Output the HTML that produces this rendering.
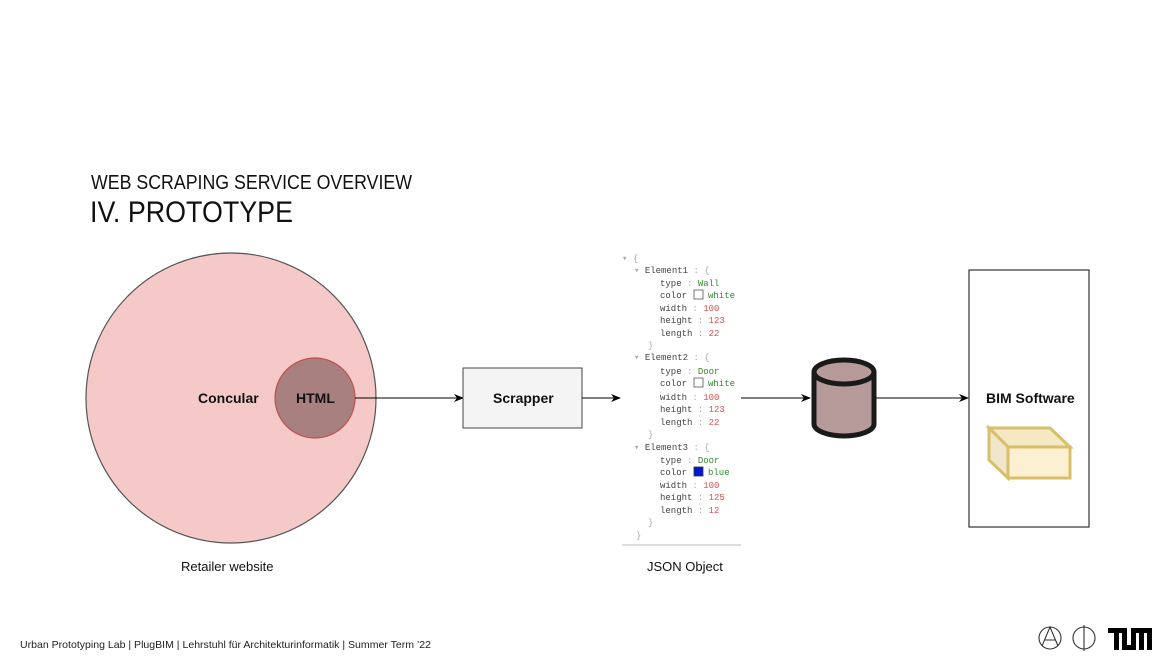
<!DOCTYPE html>
<html><head><meta charset="utf-8"><style>
html,body{margin:0;padding:0;background:#fff;}
svg{display:block}
.m{font-family:"Liberation Mono","DejaVu Sans Mono",monospace;font-size:9px;fill:#444}
.g{fill:#2e8b2e}.r{fill:#d9534f}.p{fill:#aaa}
</style></head><body>
<svg width="1176" height="662" viewBox="0 0 1176 662" xmlns="http://www.w3.org/2000/svg">
<defs><marker id="a" markerWidth="10" markerHeight="8" refX="9" refY="4" orient="auto" markerUnits="userSpaceOnUse"><path d="M0,0 L10,4 L0,8 L3,4 Z" fill="#000"/></marker></defs>
<g font-family="Liberation Sans, sans-serif" fill="#111">
<text x="91" y="189" font-size="20" textLength="321" lengthAdjust="spacingAndGlyphs">WEB SCRAPING SERVICE OVERVIEW</text>
<text x="90" y="222" font-size="30" textLength="203" lengthAdjust="spacingAndGlyphs">IV. PROTOTYPE</text>
</g>
<circle cx="231" cy="398" r="145" fill="#f6c9c9" stroke="#555" stroke-width="1.2"/>
<circle cx="315" cy="398" r="40" fill="#a88080" stroke="#c05050" stroke-width="1.2"/>
<line x1="355" y1="398" x2="463" y2="398" stroke="#000" stroke-width="1" marker-end="url(#a)"/>
<rect x="463" y="368" width="119" height="60" fill="#f4f4f4" stroke="#444" stroke-width="1"/>
<line x1="582" y1="398" x2="620" y2="398" stroke="#000" stroke-width="1" marker-end="url(#a)"/>
<line x1="741" y1="398" x2="810" y2="398" stroke="#000" stroke-width="1" marker-end="url(#a)"/>
<line x1="876" y1="398" x2="968" y2="398" stroke="#000" stroke-width="1" marker-end="url(#a)"/>
<path d="M814,372 L814,424 A30,12 0 0 0 874,424 L874,372" fill="#b79a9a" stroke="#1a1a1a" stroke-width="5"/>
<ellipse cx="844" cy="372" rx="30" ry="12" fill="#b79a9a" stroke="#1a1a1a" stroke-width="5"/>
<rect x="969" y="270" width="120" height="257" fill="#fff" stroke="#333" stroke-width="1.2"/>
<g stroke="#d8bf6a" stroke-width="3" fill="#f9efcf">
<path d="M989,428 L1050,428 L1070,447 L1008,447 Z" fill="#f5e9c3"/>
<path d="M989,428 L1008,447 L1008,478 L989,460 Z" fill="#efe6cc"/>
<rect x="1008" y="447" width="62" height="31" fill="#fbf1d2"/>
</g>
<g font-family="Liberation Sans, sans-serif" font-weight="bold" font-size="14" fill="#111">
<text x="198" y="403">Concular</text>
<text x="296" y="403">HTML</text>
<text x="493" y="403">Scrapper</text>
<text x="986" y="403">BIM Software</text>
</g>
<g class="m">
<text x="622" y="261"><tspan class="p">▾ {</tspan></text>
<text x="634" y="273"><tspan class="p">▾ </tspan>Element1<tspan class="p"> : {</tspan></text>
<text x="660" y="286">type <tspan class="p">:</tspan> <tspan class="g">Wall</tspan></text>
<text x="660" y="298">color <tspan class="p">:</tspan></text><text x="708" y="298" class="g">white</text>
<text x="660" y="311">width <tspan class="p">:</tspan> <tspan class="r">100</tspan></text>
<text x="660" y="323">height <tspan class="p">:</tspan> <tspan class="r">123</tspan></text>
<text x="660" y="336">length <tspan class="p">:</tspan> <tspan class="r">22</tspan></text>
<text x="648" y="348" class="p">}</text>
<text x="634" y="360"><tspan class="p">▾ </tspan>Element2<tspan class="p"> : {</tspan></text>
<text x="660" y="374">type <tspan class="p">:</tspan> <tspan class="g">Door</tspan></text>
<text x="660" y="386">color <tspan class="p">:</tspan></text><text x="708" y="386" class="g">white</text>
<text x="660" y="400">width <tspan class="p">:</tspan> <tspan class="r">100</tspan></text>
<text x="660" y="412">height <tspan class="p">:</tspan> <tspan class="r">123</tspan></text>
<text x="660" y="425">length <tspan class="p">:</tspan> <tspan class="r">22</tspan></text>
<text x="648" y="437" class="p">}</text>
<text x="634" y="450"><tspan class="p">▾ </tspan>Element3<tspan class="p"> : {</tspan></text>
<text x="660" y="463">type <tspan class="p">:</tspan> <tspan class="g">Door</tspan></text>
<text x="660" y="475">color <tspan class="p">:</tspan></text><text x="708" y="475" class="g">blue</text>
<text x="660" y="488">width <tspan class="p">:</tspan> <tspan class="r">100</tspan></text>
<text x="660" y="500">height <tspan class="p">:</tspan> <tspan class="r">125</tspan></text>
<text x="660" y="513">length <tspan class="p">:</tspan> <tspan class="r">12</tspan></text>
<text x="648" y="525" class="p">}</text>
<text x="636" y="538" class="p">}</text>
</g>
<rect x="694" y="290" width="9" height="9" fill="#fff" stroke="#555" stroke-width="0.8"/>
<rect x="694" y="378" width="9" height="9" fill="#fff" stroke="#555" stroke-width="0.8"/>
<rect x="694" y="467" width="9" height="9" fill="#0018d0" stroke="#333" stroke-width="0.8"/>
<line x1="622" y1="545" x2="741" y2="545" stroke="#bbb" stroke-width="1"/>
<g font-family="Liberation Sans, sans-serif" font-size="13" fill="#111">
<text x="181" y="571">Retailer website</text>
<text x="647" y="571">JSON Object</text>
</g>
<text x="20" y="648" font-family="Liberation Sans, sans-serif" font-size="10.5" fill="#222" textLength="411" lengthAdjust="spacingAndGlyphs">Urban Prototyping Lab | PlugBIM | Lehrstuhl für Architekturinformatik | Summer Term ’22</text>
<g stroke="#333" stroke-width="1.1" fill="none">
<circle cx="1050" cy="638" r="11"/>
<path d="M1042,646 L1050,627 L1058,646 M1044,640 L1056,640"/>
<circle cx="1084" cy="638" r="11"/>
<line x1="1084" y1="625" x2="1084" y2="651"/>
</g>
<g fill="#000">
<rect x="1108" y="628" width="17" height="5"/>
<rect x="1114" y="628" width="5" height="22"/>
<rect x="1122" y="628" width="5" height="22"/>
<rect x="1122" y="645" width="14" height="5"/>
<rect x="1131" y="628" width="5" height="22"/>
<rect x="1131" y="628" width="21" height="5"/>
<rect x="1139" y="628" width="5" height="22"/>
<rect x="1147" y="628" width="5" height="22"/>
</g>
</svg>
</body></html>
